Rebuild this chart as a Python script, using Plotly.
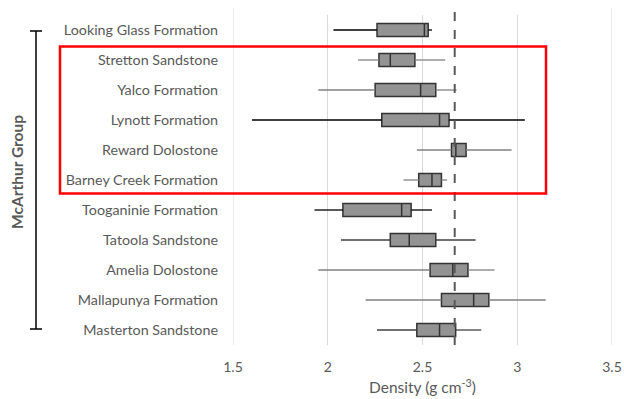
import plotly.graph_objects as go

formations = ["Looking Glass Formation", "Stretton Sandstone", "Yalco Formation",
              "Lynott Formation", "Reward Dolostone", "Barney Creek Formation",
              "Tooganinie Formation", "Tatoola Sandstone", "Amelia Dolostone",
              "Mallapunya Formation", "Masterton Sandstone"]
minimum = [2.03, 2.16, 1.95, 1.60, 2.47, 2.40, 1.93, 2.07, 1.95, 2.20, 2.26]
q1 =      [2.26, 2.27, 2.25, 2.285, 2.653, 2.48, 2.08, 2.33, 2.54, 2.60, 2.47]
median =  [2.51, 2.33, 2.49, 2.59, 2.676, 2.55, 2.39, 2.43, 2.66, 2.77, 2.59]
q3 =      [2.53, 2.46, 2.57, 2.64, 2.73, 2.60, 2.44, 2.57, 2.74, 2.85, 2.675]
maximum = [2.55, 2.62, 2.68, 3.04, 2.97, 2.63, 2.55, 2.78, 2.88, 3.15, 2.81]
whisker_colors = ["#000000", "#808080", "#808080", "#000000", "#808080", "#808080",
                  "#000000", "#404040", "#808080", "#808080", "#404040"]
crustal_density = 2.67
x_ticks = [1.5, 2, 2.5, 3, 3.5]

W, H = 624, 399
L, R, T, B = 233, 12, 15, 54
pw = W - L - R

def px(xp):
    return (xp - L) / pw

def py(yp):
    return (H - B - yp) / (H - T - B)

fig = go.Figure()

for i, f in enumerate(formations):
    fig.add_trace(go.Scatter(
        x=[minimum[i], q1[i], None, q3[i], maximum[i]],
        y=[f, f, None, f, f],
        mode="lines", line=dict(color=whisker_colors[i], width=1.3),
        showlegend=False, hoverinfo="skip", cliponaxis=False))

fig.add_trace(go.Box(
    y=formations, q1=q1, median=median, q3=q3,
    lowerfence=q1, upperfence=q3,
    orientation="h", fillcolor="#939393",
    line=dict(color="#333333", width=1.5),
    whiskerwidth=0, width=0.43, showlegend=False, boxpoints=False))

n = len(formations)
fig.update_layout(
    width=W, height=H,
    margin=dict(l=L, r=R, t=T, b=B, autoexpand=False),
    paper_bgcolor="white", plot_bgcolor="white",
    font=dict(family="Lato, Carlito, sans-serif", size=14, color="#595959"),
    xaxis=dict(range=[1.5, 3.5], tickvals=x_ticks, ticktext=[str(v) for v in x_ticks],
               showgrid=True, gridcolor="#d9d9d9", gridwidth=1, zeroline=False,
               showline=False, ticks="outside", ticklen=9, tickcolor="rgba(0,0,0,0)",
               fixedrange=True, automargin=False,
               tickfont=dict(size=14, color="#595959"),
               title=dict(text="Density (g cm<sup>-3</sup>)", standoff=8,
                          font=dict(size=15.5, color="#595959"))),
    yaxis=dict(categoryorder="array", categoryarray=formations,
               range=[n - 0.5, -0.5],
               showgrid=False, zeroline=False, showline=False, ticks="",
               automargin=False, fixedrange=True,
               ticklabelstandoff=14, tickfont=dict(size=14.3, color="#595959")),
    shapes=[
        dict(type="line", xref="x", yref="paper", x0=crustal_density, x1=crustal_density,
             y0=0, y1=py(8), line=dict(color="#595959", width=2, dash="dash")),
        dict(type="line", xref="x", yref="paper", x0=1.5, x1=1.5, y0=0, y1=py(8),
             line=dict(color="#d9d9d9", width=1)),
        dict(type="line", xref="x", yref="paper", x0=3.5, x1=3.5, y0=0, y1=py(8),
             line=dict(color="#d9d9d9", width=1)),
        dict(type="rect", xref="paper", yref="paper", x0=px(60), x1=px(546),
             y0=py(193.5), y1=py(46.5), line=dict(color="#ff0000", width=2.5)),
        dict(type="line", xref="paper", yref="paper", x0=px(36), x1=px(36),
             y0=py(329), y1=py(31), line=dict(color="#000000", width=1.5)),
        dict(type="line", xref="paper", yref="paper", x0=px(30), x1=px(42),
             y0=py(31), y1=py(31), line=dict(color="#000000", width=1.5)),
        dict(type="line", xref="paper", yref="paper", x0=px(30), x1=px(42),
             y0=py(329), y1=py(329), line=dict(color="#000000", width=1.5)),
    ],
    annotations=[
        dict(text="<b>McArthur Group</b>", xref="paper", yref="paper",
             x=px(17), y=py(172), textangle=-90, showarrow=False,
             font=dict(size=15.5, color="#595959"), xanchor="center", yanchor="middle")
    ],
)

fig.write_html("out.html", config={"displayModeBar": False},
               post_script="document.body.style.margin='0';")
